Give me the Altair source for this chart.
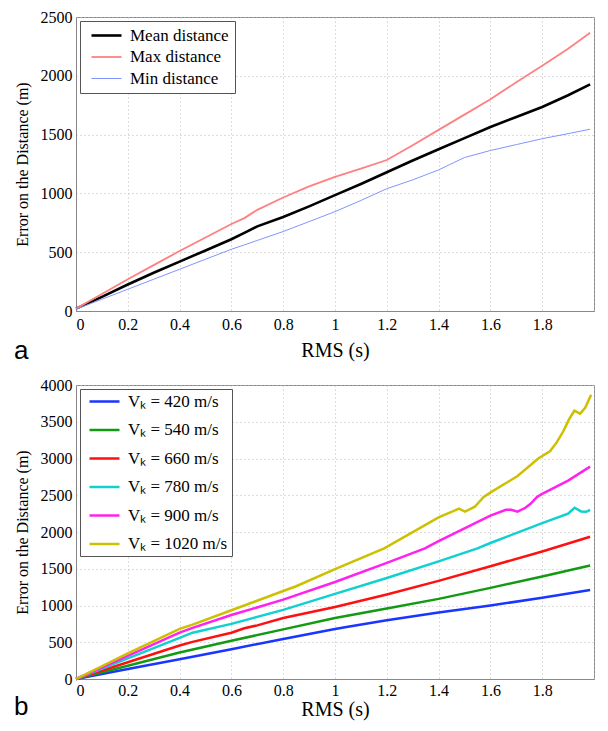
import altair as alt
import pandas as pd

# ---------------- panel a ----------------
top_series = ["Mean distance", "Max distance", "Min distance"]
top_colors = ["#000000", "#ff8080", "#8095ff"]
top_widths = [2.6, 1.0, 1.0]

top_x = [0, 0.1, 0.2, 0.3, 0.4, 0.5, 0.6, 0.65, 0.7, 0.8, 0.9, 1.0, 1.1, 1.2,
         1.3, 1.4, 1.5, 1.6, 1.7, 1.8, 1.9, 1.985]
mean_y = [20, 120, 225, 325, 420, 515, 610, 665, 720, 800, 890, 985, 1080, 1180,
          1280, 1375, 1470, 1565, 1650, 1735, 1835, 1927]
max_y = [20, 145, 270, 390, 510, 625, 740, 790, 860, 965, 1060, 1140, 1210, 1284,
         1410, 1540, 1670, 1800, 1945, 2085, 2230, 2366]
min_y = [15, 100, 185, 270, 355, 440, 525, 562, 600, 676, 760, 845, 940, 1040,
         1115, 1200, 1305, 1365, 1415, 1465, 1508, 1546]

# ---------------- panel b ----------------
bot_series = ["Vₖ = 420 m/s", "Vₖ = 540 m/s", "Vₖ = 660 m/s",
              "Vₖ = 780 m/s", "Vₖ = 900 m/s", "Vₖ = 1020 m/s"]
bot_colors = ["#1a35ff", "#129a12", "#ff1010", "#10d0d0", "#ff22ee", "#cdc000"]

v420_x = [0, 0.2, 0.4, 0.6, 0.8, 1.0, 1.05, 1.2, 1.4, 1.6, 1.8, 1.985]
v420_y = [0, 135, 270, 405, 545, 680, 710, 800, 905, 1000, 1105, 1210]
v540_x = [0, 0.2, 0.4, 0.6, 0.8, 1.0, 1.2, 1.4, 1.6, 1.8, 1.985]
v540_y = [0, 180, 360, 520, 675, 830, 960, 1090, 1240, 1395, 1545]
v660_x = [0, 0.2, 0.4, 0.45, 0.6, 0.65, 0.7, 0.8, 1.0, 1.2, 1.4, 1.6, 1.8, 1.985]
v660_y = [0, 228, 455, 505, 630, 690, 730, 830, 980, 1150, 1335, 1535, 1735, 1935]
v780_x = [0, 0.2, 0.4, 0.45, 0.6, 0.8, 1.0, 1.2, 1.4, 1.55, 1.6, 1.8, 1.9,
          1.925, 1.95, 1.97, 1.985]
v780_y = [0, 280, 560, 630, 750, 940, 1158, 1374, 1600, 1778, 1850, 2120, 2250,
          2330, 2280, 2275, 2300]
v900_x = [0, 0.2, 0.4, 0.45, 0.6, 0.8, 1.0, 1.2, 1.347, 1.4, 1.6, 1.66,
          1.68, 1.705, 1.735, 1.755, 1.78, 1.8, 1.9, 1.985]
v900_y = [0, 315, 630, 695, 870, 1080, 1320, 1580, 1778, 1875, 2222, 2303,
          2303, 2276, 2330, 2384, 2478, 2519, 2700, 2890]
v1020_x = [0, 0.2, 0.4, 0.45, 0.6, 0.8, 0.85, 1.0, 1.19, 1.4, 1.479, 1.502, 1.54,
           1.574, 1.604, 1.705, 1.786, 1.83, 1.856, 1.881, 1.903, 1.924, 1.946,
           1.966, 1.989]
v1020_y = [0, 350, 683, 740, 936, 1197, 1262, 1495, 1778, 2200, 2317, 2276, 2344,
           2478, 2546, 2761, 3004, 3098, 3219, 3367, 3529, 3650, 3610, 3690, 3866]

x_ticks = [0, 0.2, 0.4, 0.6, 0.8, 1.0, 1.2, 1.4, 1.6, 1.8, 2.0]
top_y_ticks = [0, 500, 1000, 1500, 2000, 2500]
bot_y_ticks = [0, 500, 1000, 1500, 2000, 2500, 3000, 3500, 4000]

W, H = 518, 294
SERIF = "Liberation Serif"


def long_frame(names, xs, ys):
    rows = []
    for n, xx, yy in zip(names, xs, ys):
        for i, (a, b) in enumerate(zip(xx, yy)):
            rows.append({"series": n, "rms": a, "err": b, "order": i})
    return pd.DataFrame(rows)


df_top = long_frame(top_series, [top_x] * 3, [mean_y, max_y, min_y])
df_bot = long_frame(bot_series,
                    [v420_x, v540_x, v660_x, v780_x, v900_x, v1020_x],
                    [v420_y, v540_y, v660_y, v780_y, v900_y, v1020_y])


def x_axis(lp, tp):
    return alt.Axis(values=x_ticks, format="~g", title="RMS (s)",
                    labelExpr="datum.value >= 2 ? '' : datum.label",
                    labelFont=SERIF, labelFontSize=16, titleFont=SERIF,
                    titleFontSize=20, titlePadding=tp, labelPadding=lp)


def y_axis(vals):
    return alt.Axis(values=vals, format="d", title="Error on the Distance (m)",
                    labelFont=SERIF, labelFontSize=16, titleFont=SERIF,
                    titleFontSize=16, titlePadding=10, labelPadding=4)


# legend line: custom path so the 30px sample line doesn't inflate row height
LINE_PATH = "M-1,0H9"


def legend(rowpad, pad, sw=None):
    kw = dict(orient="top-left", offset=4, title=None, labelFont=SERIF,
              labelFontSize=17, labelLimit=400, symbolType=LINE_PATH,
              symbolSize=36, strokeColor="#555", fillColor="white",
              padding=pad, rowPadding=rowpad, labelOffset=27, symbolOpacity=1,
              symbolFillColor="transparent")
    if sw is not None:
        kw["symbolStrokeWidth"] = sw
    return alt.Legend(**kw)


def panel_title(letter, off):
    return alt.TitleParams(letter, orient="bottom", anchor="start", frame="bounds",
                           font="Liberation Sans", fontSize=26, fontWeight="normal",
                           offset=off)


top = alt.Chart(df_top).mark_line().encode(
    x=alt.X("rms:Q", scale=alt.Scale(domain=[0, 2], nice=False), axis=x_axis(5, 8)),
    y=alt.Y("err:Q", scale=alt.Scale(domain=[0, 2500], nice=False),
            axis=y_axis(top_y_ticks)),
    color=alt.Color("series:N", sort=top_series,
                    scale=alt.Scale(domain=top_series, range=top_colors),
                    legend=legend(3.5, 6)),
    strokeWidth=alt.StrokeWidth("series:N", sort=top_series,
                                scale=alt.Scale(domain=top_series, range=top_widths),
                                legend=legend(3.5, 6)),
    order="order:Q",
).properties(width=W, height=H, title=panel_title("a", -22))

bot = alt.Chart(df_bot).mark_line(strokeWidth=2.5).encode(
    x=alt.X("rms:Q", scale=alt.Scale(domain=[0, 2], nice=False), axis=x_axis(3, 1)),
    y=alt.Y("err:Q", scale=alt.Scale(domain=[0, 4000], nice=False),
            axis=y_axis(bot_y_ticks)),
    color=alt.Color("series:N", sort=bot_series,
                    scale=alt.Scale(domain=bot_series, range=bot_colors),
                    legend=legend(10.5, 4, 2.5)),
    order="order:Q",
).properties(width=W, height=H, title=panel_title("b", -25))

chart = alt.vconcat(top, bot, spacing=11).resolve_scale(
    color="independent", strokeWidth="independent", x="independent", y="independent"
).properties(
    padding={"left": 5, "top": 0, "right": 0, "bottom": 0}
).configure_view(
    stroke="#888", strokeWidth=1
).configure_axis(
    labelFont=SERIF, labelFontSize=16, labelColor="black",
    titleFont=SERIF, titleColor="black", titleFontWeight="normal",
    domainColor="#888", domainWidth=1, ticks=False,
    grid=True, gridColor="#bbbbbb", gridDash=[1, 3], gridWidth=1,
)

chart.save("out.html", embed_options={"renderer": "svg", "actions": False})
